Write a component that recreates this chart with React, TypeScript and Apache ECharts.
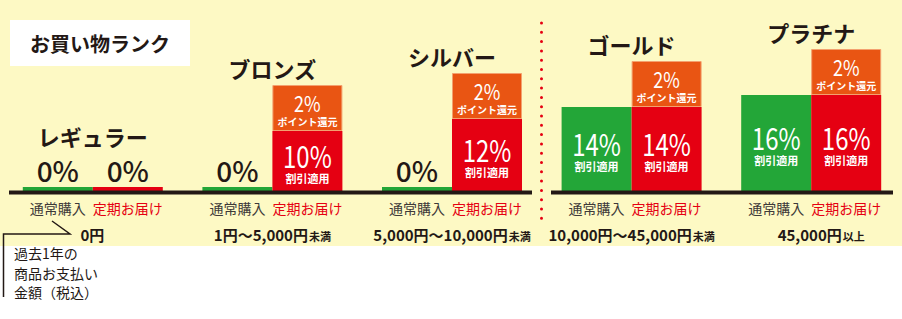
import React, { useEffect, useRef } from 'react';
import * as echarts from 'echarts';

const ranks = ['レギュラー', 'ブロンズ', 'シルバー', 'ゴールド', 'プラチナ'];
const spendRanges = ['0円', '1円〜5,000円', '5,000円〜10,000円', '10,000円〜45,000円', '45,000円'];
const spendSuffixes = ['', '未満', '未満', '未満', '以上'];
const normalRates = [0, 0, 0, 14, 16];
const subscriptionRates = [0, 10, 12, 14, 16];
const pointRates = [0, 2, 2, 2, 2];
const purchaseTypes = ['通常購入', '定期お届け'];
const discountLabel = '割引適用';
const pointLabel = 'ポイント還元';
const chartTitle = 'お買い物ランク';
const noteLines = ['過去1年の', '商品お支払い', '金額（税込）'];

const FONT = '"Noto Sans CJK JP", "Noto Sans", sans-serif';
const CREAM = '#fdf9c4';
const GREEN = '#23a638';
const RED = '#e50012';
const ORANGE = '#e95513';
const DARK = '#231815';
const GRAY = '#3e3a39';
const BAR_W = 70;
const BOX_H = 46;
const MIN_H = 4;

function makeBarRenderer(side: 'left' | 'right', color: string) {
  return (params: any, api: any) => {
    const i = api.value(0);
    const v = api.value(1);
    const base = api.coord([i, 0]);
    const top = api.coord([i, v]);
    const h = Math.max(base[1] - top[1], MIN_H);
    const x = side === 'left' ? base[0] - BAR_W : base[0];
    const cx = x + BAR_W / 2;
    const y0 = base[1] - h;
    const children: any[] = [
      { type: 'rect', shape: { x, y: y0, width: BAR_W, height: h }, style: { fill: color } },
    ];
    if (v > 0) {
      const mid = y0 + h / 2;
      children.push({
        type: 'text',
        x: cx,
        y: mid - 6,
        scaleX: 0.8,
        style: { text: v + '%', x: 0, y: 0, align: 'center', verticalAlign: 'middle', fill: '#fff', fontSize: 30, lineHeight: 24, fontFamily: FONT, fontWeight: 'normal' },
      });
      children.push({
        type: 'text',
        style: { text: discountLabel, x: cx, y: mid + 17, align: 'center', verticalAlign: 'middle', fill: '#fff', fontSize: 11, lineHeight: 11, fontFamily: FONT, fontWeight: 'bold' },
      });
    } else {
      children.push({
        type: 'text',
        style: { text: v + '%', x: cx, y: base[1] - 21, align: 'center', verticalAlign: 'middle', fill: DARK, fontSize: 28, lineHeight: 24, fontFamily: FONT, fontWeight: 500 },
      });
    }
    return { type: 'group', children };
  };
}

function pointRenderer(params: any, api: any) {
  const i = api.value(0);
  const sub = api.value(1);
  const pt = api.value(2);
  const base = api.coord([i, 0]);
  const redTop = api.coord([i, sub])[1];
  const children: any[] = [];
  let stackTop = base[1] - 38;
  if (pt > 0) {
    const bx = base[0];
    const by = redTop - BOX_H;
    children.push({ type: 'rect', shape: { x: bx + 0.5, y: by + 0.5, width: BAR_W - 1, height: BOX_H - 1 }, style: { fill: ORANGE, stroke: '#f3a16f', lineWidth: 1 } });
    children.push({
      type: 'text',
      x: bx + BAR_W / 2,
      y: redTop - 28,
      scaleX: 0.82,
      style: { text: pt + '%', x: 0, y: 0, align: 'center', verticalAlign: 'middle', fill: '#fff', fontSize: 22, lineHeight: 17, fontFamily: FONT, fontWeight: 'normal' },
    });
    children.push({
      type: 'text',
      style: { text: pointLabel, x: bx + BAR_W / 2, y: redTop - 10, align: 'center', verticalAlign: 'middle', fill: '#fff', fontSize: 10, lineHeight: 10, fontFamily: FONT, fontWeight: 'bold' },
    });
    stackTop = by;
  }
  children.push({
    type: 'text',
    style: { text: ranks[i], x: base[0], y: stackTop - 17, align: 'center', verticalAlign: 'middle', fill: DARK, fontSize: 22, lineHeight: 22, fontFamily: FONT, fontWeight: 'bold' },
  });
  return { type: 'group', children };
}

export default function App() {
  const ref = useRef<HTMLDivElement>(null);
  useEffect(() => {
    if (!ref.current) return;
    const chart = echarts.init(ref.current, undefined, { renderer: 'svg' });
    const lastIdx = ranks.length - 1;
    const option: any = {
      animation: false,
      backgroundColor: '#ffffff',
      grid: { left: 3, right: 1, top: 11, bottom: 128 },
      xAxis: {
        type: 'category',
        data: ranks,
        axisLine: { show: false },
        axisTick: { show: false },
        axisLabel: {
          interval: 0,
          margin: 6,
          formatter: (_: string, idx: number) =>
            `{a|${purchaseTypes[0]}}{b|${purchaseTypes[1]}}\n{${idx === lastIdx ? 'rl' : 'r'}|${spendRanges[idx]}}{s|${spendSuffixes[idx]}}`,
          rich: {
            a: { width: BAR_W, align: 'center', fontSize: 14, color: GRAY, lineHeight: 22, fontFamily: FONT },
            b: { width: BAR_W, align: 'center', fontSize: 14, color: RED, lineHeight: 22, fontFamily: FONT },
            r: { fontSize: 15, fontWeight: 'bold', color: DARK, lineHeight: 30, fontFamily: FONT },
            rl: { fontSize: 15, fontWeight: 'bold', color: DARK, lineHeight: 30, fontFamily: FONT, padding: [0, 0, 0, 20] },
            s: { fontSize: 11, fontWeight: 'bold', color: DARK, lineHeight: 30, fontFamily: FONT, padding: [3, 0, 0, 1] },
          },
        },
      },
      yAxis: { type: 'value', min: 0, max: 30, show: false },
      series: [
        {
          type: 'custom',
          name: purchaseTypes[0],
          renderItem: makeBarRenderer('left', GREEN),
          encode: { x: 0, y: 1 },
          data: ranks.map((_, i) => [i, normalRates[i]]),
          z: 3,
        },
        {
          type: 'custom',
          name: purchaseTypes[1],
          renderItem: makeBarRenderer('right', RED),
          encode: { x: 0, y: 1 },
          data: ranks.map((_, i) => [i, subscriptionRates[i]]),
          z: 3,
        },
        {
          type: 'custom',
          name: pointLabel,
          renderItem: pointRenderer,
          encode: { x: 0, y: 1 },
          data: ranks.map((_, i) => [i, subscriptionRates[i], pointRates[i]]),
          z: 4,
        },
      ],
      graphic: [
        { type: 'rect', z: -100, shape: { x: 0, y: 0, width: 902, height: 246 }, style: { fill: CREAM } },
        { type: 'rect', z: 1, shape: { x: 10, y: 20, width: 180, height: 46 }, style: { fill: '#ffffff' } },
        { type: 'text', z: 2, style: { text: chartTitle, x: 100, y: 43, align: 'center', verticalAlign: 'middle', fill: DARK, fontSize: 20, fontWeight: 'bold', fontFamily: FONT } },
        { type: 'line', z: 10, shape: { x1: 9, y1: 192.5, x2: 532, y2: 192.5 }, style: { stroke: DARK, lineWidth: 4 } },
        { type: 'line', z: 10, shape: { x1: 551, y1: 192.5, x2: 893, y2: 192.5 }, style: { stroke: DARK, lineWidth: 4 } },
        { type: 'line', z: 10, shape: { x1: 541.5, y1: 23, x2: 541.5, y2: 222 }, style: { stroke: RED, lineWidth: 3, lineDash: [0, 9.3], lineCap: 'round' } },
        { type: 'polyline', z: 10, shape: { points: [[3.5, 297], [3.5, 234], [70, 234], [52, 221]] }, style: { stroke: DARK, lineWidth: 1.5, fill: null } },
        ...noteLines.map((t, k) => ({
          type: 'text', z: 10,
          style: { text: t, x: 14, y: 253 + k * 19.5, align: 'left', verticalAlign: 'middle', fill: DARK, fontSize: 14, fontFamily: FONT },
        })),
      ],
    };
    chart.setOption(option);
    return () => chart.dispose();
  }, []);
  return (
    <div style={{ position: 'fixed', left: 0, top: 0, width: 902, height: 319 }}>
      <div ref={ref} style={{ width: 902, height: 319 }} />
    </div>
  );
}
